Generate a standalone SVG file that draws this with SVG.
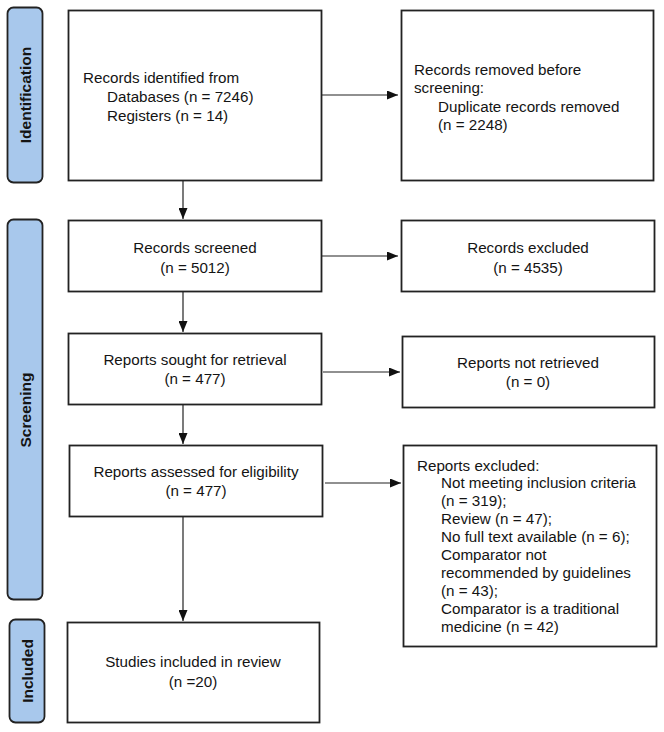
<svg xmlns="http://www.w3.org/2000/svg" width="664" height="732" viewBox="0 0 664 732">
<defs>
<marker id="ah" markerWidth="11" markerHeight="9" refX="11" refY="4.5" orient="auto" markerUnits="userSpaceOnUse">
<path d="M0,0 L11,4.5 L0,9 Z" fill="#111"/>
</marker>
<style>
.box{fill:#fff;stroke:#222;stroke-width:1.8}
.pill{fill:#a8c8ec;stroke:#222;stroke-width:1.8}
.t{font-family:"Liberation Sans",Arial,sans-serif;font-size:15.2px;fill:#141414}
.c{text-anchor:middle}
.lab{font-family:"Liberation Sans",Arial,sans-serif;font-size:15.5px;font-weight:bold;fill:#141414;text-anchor:middle}
.con{stroke:#222;stroke-width:1.2;fill:none;marker-end:url(#ah)}
</style>
</defs>
<rect width="664" height="732" fill="#fff"/>
<g id="phase-identification">
<rect class="pill" x="7.5" y="7.5" width="35" height="175" rx="6"/>
<text class="lab" transform="translate(30.5,95) rotate(-90)">Identification</text>
</g>
<g id="phase-screening">
<rect class="pill" x="7.5" y="219.5" width="35" height="380" rx="6"/>
<text class="lab" transform="translate(30.5,410) rotate(-90)">Screening</text>
</g>
<g id="phase-included">
<rect class="pill" x="9.5" y="619.5" width="35" height="103" rx="6"/>
<text class="lab" transform="translate(32.5,671) rotate(-90)">Included</text>
</g>
<g id="identified">
<rect class="box" x="68.5" y="10.5" width="253" height="170"/>
<text class="t" x="83" y="83">Records identified from</text>
<text class="t" x="107" y="102">Databases (n = 7246)</text>
<text class="t" x="107" y="121">Registers (n = 14)</text>
</g>
<g id="removed">
<rect class="box" x="401.5" y="10.5" width="252" height="170"/>
<text class="t" x="414" y="75">Records removed before</text>
<text class="t" x="414" y="93">screening:</text>
<text class="t" x="438" y="112">Duplicate records removed</text>
<text class="t" x="438" y="130">(n = 2248)</text>
</g>
<g id="screened">
<rect class="box" x="68.5" y="220.5" width="253" height="71"/>
<text class="t c" x="195" y="253">Records screened</text>
<text class="t c" x="195" y="273">(n = 5012)</text>
</g>
<g id="excluded">
<rect class="box" x="401.5" y="220.5" width="253" height="71"/>
<text class="t c" x="528" y="253">Records excluded</text>
<text class="t c" x="528" y="273">(n = 4535)</text>
</g>
<g id="sought">
<rect class="box" x="68.5" y="333.5" width="253" height="71"/>
<text class="t c" x="195" y="365">Reports sought for retrieval</text>
<text class="t c" x="195" y="384">(n = 477)</text>
</g>
<g id="not-retrieved">
<rect class="box" x="402.5" y="336.5" width="252" height="71"/>
<text class="t c" x="528" y="368">Reports not retrieved</text>
<text class="t c" x="528" y="387">(n = 0)</text>
</g>
<g id="assessed">
<rect class="box" x="69.5" y="445.5" width="253" height="71"/>
<text class="t c" x="196" y="477">Reports assessed for eligibility</text>
<text class="t c" x="196" y="496">(n = 477)</text>
</g>
<g id="reports-excluded">
<rect class="box" x="403.5" y="445.5" width="253" height="201"/>
<text class="t" x="417" y="471">Reports excluded:</text>
<text class="t" x="441" y="488">Not meeting inclusion criteria</text>
<text class="t" x="441" y="506">(n = 319);</text>
<text class="t" x="441" y="524">Review (n = 47);</text>
<text class="t" x="441" y="542">No full text available (n = 6);</text>
<text class="t" x="441" y="560">Comparator not</text>
<text class="t" x="441" y="578">recommended by guidelines</text>
<text class="t" x="441" y="596">(n = 43);</text>
<text class="t" x="441" y="614">Comparator is a traditional</text>
<text class="t" x="441" y="632">medicine (n = 42)</text>
</g>
<g id="included">
<rect class="box" x="67.5" y="622.5" width="252" height="100"/>
<text class="t c" x="193" y="667">Studies included in review</text>
<text class="t c" x="193" y="687">(n =20)</text>
</g>
<g id="connectors">
<line class="con" x1="322" y1="95" x2="398" y2="95"/>
<line class="con" x1="183" y1="181" x2="183" y2="219"/>
<line class="con" x1="322" y1="256" x2="398" y2="256"/>
<line class="con" x1="183" y1="292" x2="183" y2="332"/>
<line class="con" x1="323" y1="372" x2="400" y2="372"/>
<line class="con" x1="183" y1="405" x2="183" y2="444"/>
<line class="con" x1="325" y1="483" x2="401" y2="483"/>
<line class="con" x1="183" y1="517" x2="183" y2="621"/>
</g>
</svg>
